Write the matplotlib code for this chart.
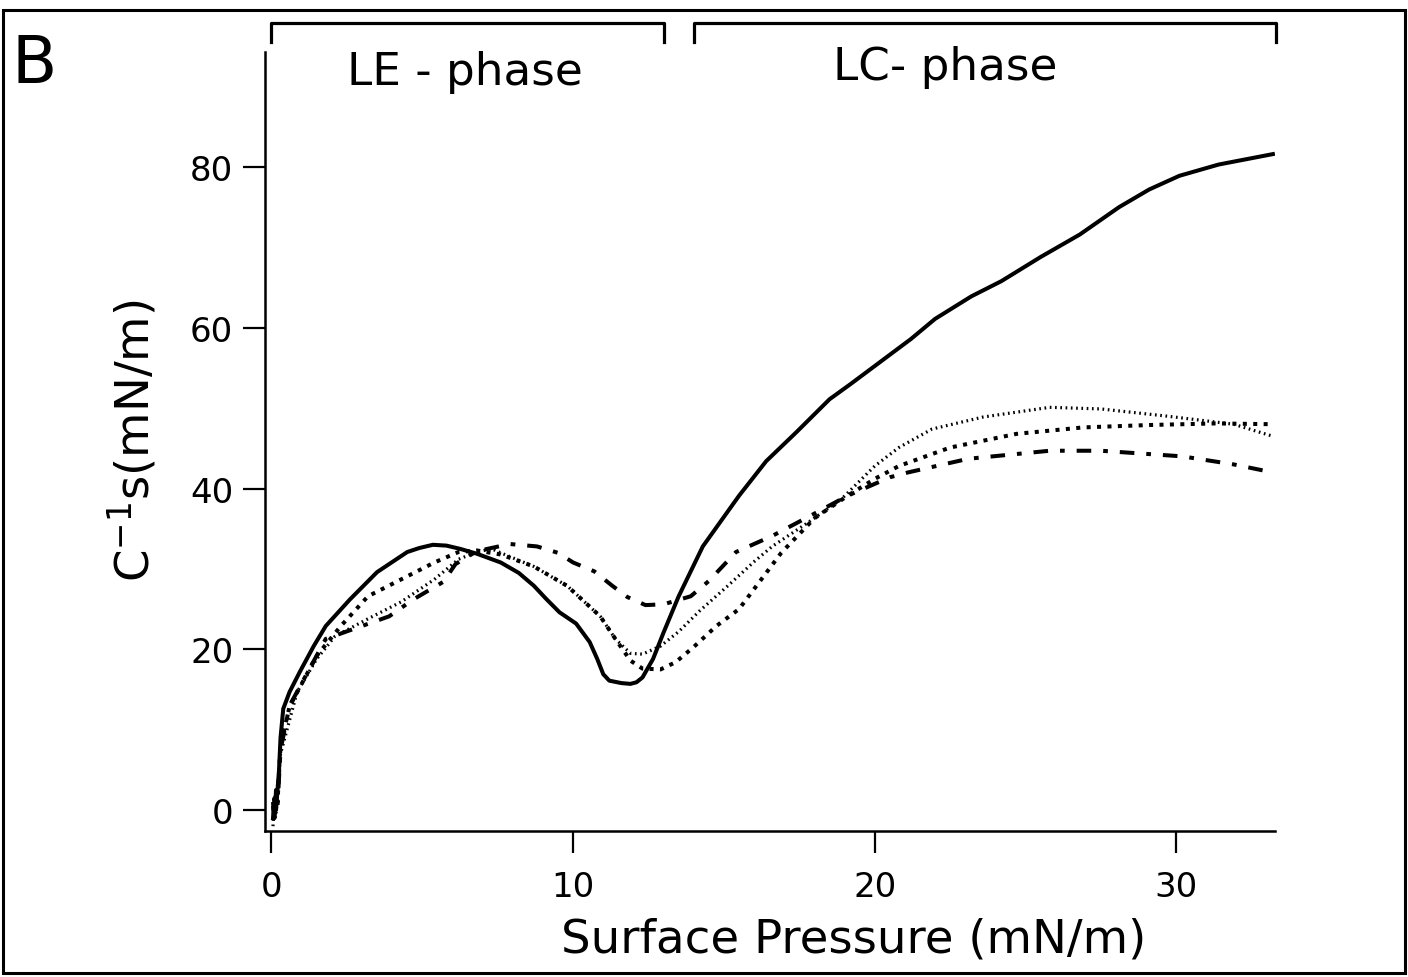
import matplotlib
matplotlib.use("Agg")
import matplotlib.pyplot as plt
from matplotlib.lines import Line2D
from matplotlib.patches import Rectangle
import matplotlib.transforms as mtransforms

plt.rcParams['font.family'] = ['DejaVu Sans']
plt.rcParams['mathtext.fontset'] = 'dejavusans'
plt.rcParams['lines.scale_dashes'] = False

# surface pressure (mN/m) vs compressional modulus C_s^-1 (mN/m)
solid_x = [0.05, 0.1, 0.15, 0.2, 0.25, 0.3, 0.39, 0.6, 0.94, 1.4, 1.8, 2.6, 3.5, 4.5, 4.9,
           5.35, 5.8, 6.25, 6.8, 7.6, 8.2, 8.7, 9.1, 9.55, 10.1, 10.55, 10.8, 11.0, 11.2, 11.6,
           11.9, 12.1, 12.3, 12.65, 13.0, 13.5, 14.3, 15.5, 16.4, 17.4, 18.5, 19.2, 20.2, 21.2,
           22.0, 23.2, 24.2, 25.5, 26.8, 28.1, 29.1, 30.1, 31.4, 33.2]
solid_y = [-1.0, 1.5, 0.0, 2.5, 5.0, 9.0, 12.6, 14.7, 17.2, 20.4, 22.9, 26.2, 29.6, 32.1, 32.6,
           33.0, 32.9, 32.5, 31.9, 30.8, 29.5, 27.9, 26.3, 24.6, 23.2, 20.9, 18.8, 16.9, 16.1,
           15.8, 15.7, 15.9, 16.5, 18.8, 22.1, 26.6, 32.8, 39.1, 43.4, 47.0, 51.1, 53.0, 55.8,
           58.6, 61.1, 63.9, 65.8, 68.8, 71.6, 75.0, 77.2, 78.9, 80.3, 81.6]

dashed_x = [0.05, 0.1, 0.15, 0.2, 0.3, 0.6, 1.5, 2.3, 3.2, 4.3, 5.4, 6.2, 6.8, 7.6, 8.7, 9.8,
            10.9, 11.4, 11.9, 12.3, 12.9, 13.4, 14.0, 14.75, 15.5, 16.1, 16.9, 18.0, 19.1, 20.0,
            20.8, 22.5, 24.7, 26.9, 29.1, 31.3, 33.2]
dashed_y = [0.5, -1.0, 2.0, 1.0, 8.0, 12.9, 19.2, 22.9, 26.6, 28.7, 30.8, 32.1, 32.3, 31.8,
            30.3, 27.9, 24.1, 21.3, 18.6, 17.6, 17.5, 18.4, 20.3, 22.9, 25.0, 28.0, 32.0, 36.3,
            39.1, 41.2, 42.8, 45.1, 46.8, 47.6, 47.9, 48.1, 48.0]

dotted_x = [0.05, 0.1, 0.15, 0.2, 0.3, 0.85, 1.5, 2.1, 3.2, 4.3, 5.4, 6.2, 6.8, 7.3, 7.6, 8.7,
            9.8, 10.9, 11.4, 11.9, 12.3, 12.9, 13.5, 14.2, 15.1, 16.0, 16.6, 17.8, 18.9, 20.0,
            20.8, 21.9, 23.6, 25.8, 27.5, 29.7, 31.9, 33.2]
dotted_y = [-2.0, 1.0, -0.5, 2.0, 7.0, 14.7, 18.8, 21.6, 23.8, 25.9, 28.7, 31.2, 32.1, 32.5,
            32.0, 30.3, 27.9, 24.1, 21.3, 19.5, 19.4, 20.4, 22.2, 24.8, 27.8, 30.9, 32.8, 35.8,
            38.7, 42.8, 45.1, 47.4, 48.9, 50.1, 49.9, 49.0, 48.0, 46.5]

dashdot_x = [0.05, 0.1, 0.15, 0.2, 0.3, 0.6, 1.8, 3.0, 3.9, 4.7, 5.7, 6.1, 6.8, 7.9, 8.8, 9.5,
             10.0, 10.7, 11.3, 11.8, 12.4, 13.0, 13.9, 14.5, 15.4, 16.6, 17.96, 19.1, 20.5,
             21.1, 23.1, 25.8, 27.5, 30.2, 31.9, 33.2]
dashdot_y = [1.0, -1.5, 2.5, 0.5, 7.5, 13.0, 21.3, 22.9, 24.1, 26.2, 28.4, 30.6, 32.2, 33.1,
             32.8, 32.0, 30.8, 29.7, 27.9, 26.5, 25.5, 25.6, 26.6, 28.5, 32.1, 34.1, 36.8,
             39.1, 41.4, 42.0, 43.7, 44.7, 44.7, 44.0, 43.0, 42.0]

x_ticks = [0, 10, 20, 30]
y_ticks = [0, 20, 40, 60, 80]

# phase regions marked with brackets above the plot
phase_names = ["LE - phase", "LC- phase"]
phase_spans = [(0.0, 13.0), (14.0, 33.3)]
phase_label_x = [6.4, 22.35]

W, H = 1408, 978
fig = plt.figure(figsize=(W / 100, H / 100), dpi=100)
ax = fig.add_axes([265 / W, 146 / H, 1010 / W, 779 / H])

ax.plot(solid_x, solid_y, color='black', lw=2.9, solid_joinstyle='round')
ax.plot(dashed_x, dashed_y, color='black', lw=2.9, dashes=(2.9, 4.6))
ax.plot(dotted_x, dotted_y, color='black', lw=2.3, dashes=(1.2, 2.6))
ax.plot(dashdot_x, dashdot_y, color='black', lw=2.9, dashes=(10.5, 8.6, 3.4, 8.6))

ax.set_xlim(-0.215, 33.27)
ax.set_ylim(-2.6, 94.3)
ax.set_xticks(x_ticks)
ax.set_yticks(y_ticks)
for side in ['top', 'right']:
    ax.spines[side].set_visible(False)
for side in ['left', 'bottom']:
    ax.spines[side].set_linewidth(1.8)
ax.tick_params(direction='out', length=15.8, width=1.6, labelsize=24.5)
ax.tick_params(axis='y', pad=7)
ax.tick_params(axis='x', pad=12)

# brackets + phase names
trans = mtransforms.blended_transform_factory(ax.transData, ax.transAxes)
for name, (x0, x1), xt in zip(phase_names, phase_spans, phase_label_x):
    ax.add_line(Line2D([x0, x0, x1, x1], [1.013, 1.037, 1.037, 1.013], transform=trans,
                       color='black', lw=2.3, clip_on=False))
for name, xt, yb in zip(phase_names, phase_label_x, [0.959, 0.965]):
    ax.text(xt, yb, name, transform=trans, ha='center', va='baseline', fontsize=32.6)

fig.text(854 / W, 1 - 940 / H, "Surface Pressure (mN/m)", ha='center', va='center',
         fontsize=33.6)
fig.text(132 / W, 1 - 441 / H, r"C$^{-1}$s(mN/m)", ha='center', va='center',
         rotation=90, fontsize=33.6)
fig.text(12 / W, 1 - 83 / H, "B", ha='left', va='baseline', fontsize=47.5)

fig.add_artist(Rectangle((3 / W, 1 - 974 / H), 1402 / W, 963 / H, transform=fig.transFigure,
                         fill=False, lw=2.2, edgecolor='black'))

fig.savefig("out.png", dpi=100, facecolor='white')
